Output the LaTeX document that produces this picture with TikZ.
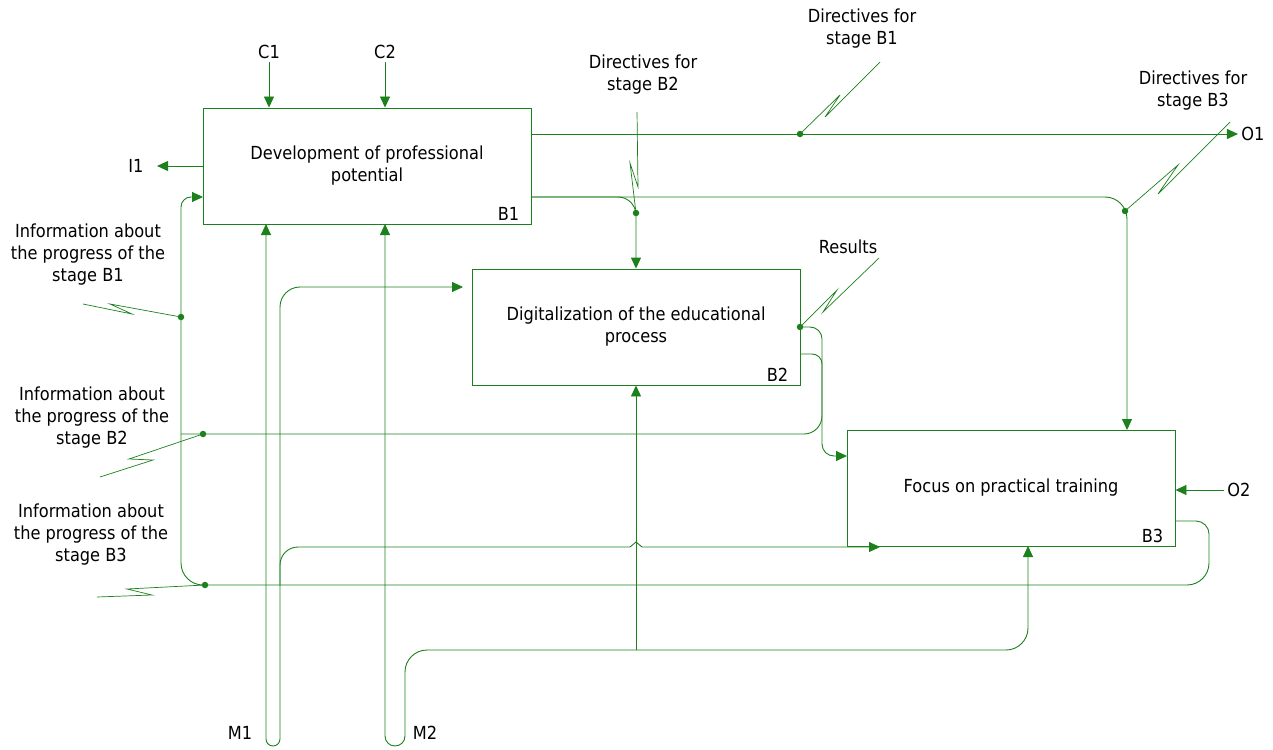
\documentclass[tikz,border=0pt]{standalone}
\usepackage{fontspec}
\setmainfont{DejaVu Sans}[FakeStretch=0.9]
\usetikzlibrary{arrows.meta}
\definecolor{idefgreen}{RGB}{28,128,28}

\begin{document}
\begin{tikzpicture}[x=1pt,y=-1pt,
        font=\fontsize{18}{22}\selectfont,
        process/.style={draw=idefgreen,line width=0.9pt,minimum width=328pt,minimum height=116pt,inner sep=0pt,align=center},
        number/.style={anchor=south east,inner xsep=12pt,inner ysep=4pt},
        caption/.style={align=center,inner sep=1pt},
        flow/.style={draw=idefgreen,line width=0.9pt,-{Triangle[length=11pt,width=10pt]}},
        backflow/.style={draw=idefgreen,line width=0.9pt,{Triangle[length=11pt,width=10pt]}-},
        twoway/.style={draw=idefgreen,line width=0.9pt,{Triangle[length=11pt,width=10pt]}-{Triangle[length=11pt,width=10pt]}},
        link/.style={draw=idefgreen,line width=0.9pt},
        bolt/.style={draw=idefgreen,line width=0.7pt},
        joint/.style={circle,fill=idefgreen,inner sep=0pt,minimum size=6.5pt}
    ]
        \useasboundingbox (0,0) rectangle (1273,749);

        % Define the function boxes
        \node[process] (b1) at (367,166) {Development of professional\\potential};
        \node[process] (b2) at (636,327) {Digitalization of the educational\\process};
        \node[process] (b3) at (1011,488) {Focus on practical training};
        \node[number] (b1num) at (b1.south east) {B1};
        \node[number] (b2num) at (b2.south east) {B2};
        \node[number] (b3num) at (b3.south east) {B3};

        % Define the arrow labels
        \node (c1) at (269,52) {C1};
        \node (c2) at (385,52) {C2};
        \node (i1) at (136,166) {I1};
        \node (o1) at (1253,134) {O1};
        \node (o2) at (1239,490) {O2};
        \node (m1) at (240,733) {M1};
        \node (m2) at (425,733) {M2};
        \node[caption] (dirb1) at (862,29) {Directives for\\stage B1};
        \node[caption] (dirb2) at (643,75) {Directives for\\stage B2};
        \node[caption] (dirb3) at (1193,91) {Directives for\\stage B3};
        \node[caption] (res) at (848,247) {Results};
        \node[caption] (infb1) at (88,255) {Information about\\the progress of the\\stage B1};
        \node[caption] (infb2) at (92,418) {Information about\\the progress of the\\stage B2};
        \node[caption] (infb3) at (91,535) {Information about\\the progress of the\\stage B3};

        % Ports, rails and junctions
        \coordinate (b1out2) at (531,197);
        \coordinate (b1fb) at (203,197);
        \coordinate (b2out1) at (800,327);
        \coordinate (b2out2) at (800,354);
        \coordinate (b2m) at (472,287);
        \coordinate (b3in) at (847,456);
        \coordinate (b3ctl) at (1127,430);
        \coordinate (b3out) at (1175,521);
        \coordinate (b3m1) at (880,547);
        \coordinate (b3m2) at (1028,546);
        \coordinate (m1in) at (266,224);
        \coordinate (m2in) at (385,224);
        \coordinate (hop) at (636,547);
        \coordinate (busL) at (181,0);
        \coordinate (busB2) at (822,0);
        \coordinate (busB3) at (1209,0);
        \coordinate (m1r) at (280,0);
        \coordinate (m2r) at (405,0);
        \coordinate (railB2) at (0,434);
        \coordinate (railB3) at (0,585);
        \coordinate (railM) at (0,650);
        \coordinate (loopM) at (0,746);

        % Controls, inputs and outputs
        \draw[flow] (c1) -- (c1 |- b1.north);
        \draw[flow] (c2) -- (c2 |- b1.north);
        \draw[flow,shorten >=10pt] (b1.west |- i1) -- (i1);
        \draw[flow] (b1.east |- o1) -- (o1);
        \draw[flow] (o2) -- (o2 -| b3.east);

        % Directives going down to B2 and B3
        \draw[flow,rounded corners=18pt] (b1out2) -| (b2.north);
        \draw[flow,rounded corners=22pt] (b1out2) -| (b3ctl);

        % Results of B2
        \draw[flow] (b2out1) [rounded corners=12pt] -| (busB2 |- b3in) -- (b3in);
        \draw[link] (b2out2) [rounded corners=10pt] -- (busB2 |- b2out2) [rounded corners=18pt] -- (busB2 |- railB2) -- (busL |- railB2);

        % Feedback from B3 back to B1
        \draw[flow] (b3out) [rounded corners=13pt] -- (busB3 |- b3out) [rounded corners=22pt] -- (busB3 |- railB3) -- (busL |- railB3) [rounded corners=10pt] -- (busL |- b1fb) -- (b1fb);

        % Mechanisms
        \draw[backflow] (m1in) [rounded corners=7pt] -- (m1in |- loopM) -- (m1r |- loopM) -- (m1r |- railB3);
        \draw[flow,shorten >=9pt,rounded corners=20pt] (m1r |- railB3) |- (b2m);
        \draw[flow] (m1r |- railB3) [rounded corners=18pt] -- (m1r |- b3m1) [sharp corners] -- ([xshift=-6pt]hop) -- ([yshift=5pt]hop) -- ([xshift=6pt]hop) -- (b3m1);
        \draw[twoway] (m2in) [rounded corners=10pt] -- (m2in |- loopM) -- (m2r |- loopM) [rounded corners=22pt] -- (m2r |- railM) -| (b3m2);
        \draw[flow] (b2.south |- railM) -- (b2.south);

        % Junction dots and squiggles
        \node[joint] (d1) at (800,134) {};
        \node[joint] (d2) at (636,213) {};
        \node[joint] (d3) at (1125,211) {};
        \node[joint] (d4) at (b2out1) {};
        \node[joint] (d5) at (181,317) {};
        \node[joint] (d6) at (203,434) {};
        \node[joint] (d7) at (205,585) {};
        \draw[bolt] (d1.center) -- ++(40,-39) -- ++(-15,22) -- ++(55,-55);
        \draw[bolt] (d2.center) -- ++(-6,-50) -- ++(8,24) -- ++(-1,-75);
        \draw[bolt] (d3.center) -- ++(53,-46) -- ++(-20,29) -- ++(72,-72);
        \draw[bolt] (d4.center) -- ++(37,-37) -- ++(-14,22) -- ++(56,-54);
        \draw[bolt] (d5.center) -- ++(-71,-13) -- ++(22,10) -- ++(-49,-10);
        \draw[bolt] (d6.center) -- ++(-74,25) -- ++(24,1) -- ++(-53,17);
        \draw[bolt] (d7.center) -- ++(-78,4) -- ++(25,6) -- ++(-55,2);
    \end{tikzpicture}
\end{document}
